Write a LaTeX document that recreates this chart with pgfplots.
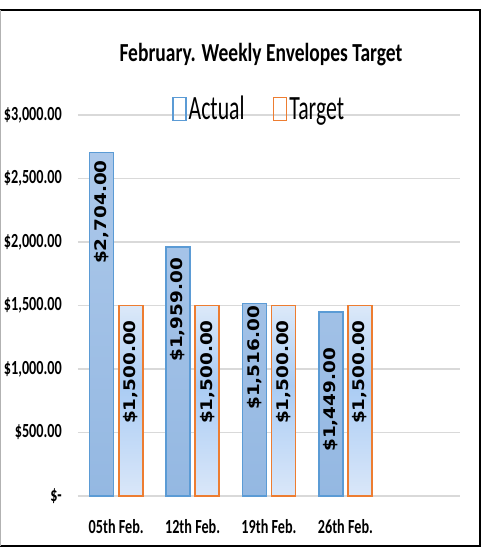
\documentclass[border=0pt]{standalone}
\usepackage{fontspec}
\setmainfont{Carlito}[FakeStretch=0.88]
\newfontfamily\titlefont{Carlito}[FakeStretch=0.75]
\newfontfamily\tickfont{Carlito}[FakeStretch=0.71]
\newfontfamily\legfont{Carlito}[FakeStretch=0.64]
\newfontfamily\labfont{DejaVu Sans}[FakeStretch=1.15]
\usepackage{pgfplots}
\pgfplotsset{compat=1.18}
\definecolor{actEdge}{RGB}{91,155,213}
\definecolor{actTop}{RGB}{172,200,234}
\definecolor{actBot}{RGB}{148,184,226}
\definecolor{tgtEdge}{RGB}{237,125,49}
\definecolor{tgtTop}{RGB}{220,233,249}
\definecolor{tgtMid}{RGB}{170,204,244}
\definecolor{tgtBot}{RGB}{218,231,249}
\definecolor{gridc}{RGB}{217,217,217}
\pgfdeclareverticalshading{tgtshade}{100bp}{color(0bp)=(tgtBot); color(25bp)=(tgtBot); color(54bp)=(tgtMid); color(75bp)=(tgtTop); color(100bp)=(tgtTop)}
\pgfdeclareverticalshading{actshade}{100bp}{color(0bp)=(actBot); color(25bp)=(actBot); color(75bp)=(actTop); color(100bp)=(actTop)}
\pgfplotstableread{
x actual target
0 2704 1500
1 1959 1500
2 1516 1500
3 1449 1500
}\datatab
\begin{document}
\begin{tikzpicture}
\useasboundingbox (-78pt,-54pt) rectangle (404pt,496pt);
\begin{axis}[
  at={(0pt,0pt)}, anchor=south west,
  scale only axis, width=382pt, height=381pt,
  xmin=-0.5, xmax=4.5, ymin=0, ymax=3000,
  axis line style={draw=none},
  tick style={draw=none},
  ymajorgrids, major grid style={gridc, line width=1.5pt},
  ytick={0,500,1000,1500,2000,2500,3000},
  yticklabels={{\$-\hspace{10pt}},{\$500.00},{\$1,000.00},{\$1,500.00},{\$2,000.00},{\$2,500.00},{\$3,000.00}},
  yticklabel style={anchor=east, inner sep=0pt, xshift=-16pt, font=\tickfont\bfseries\fontsize{20}{20}\selectfont},
  xtick={0,1,2,3},
  xticklabels={05th Feb.,12th Feb.,19th Feb.,26th Feb.},
  xticklabel style={anchor=center, inner sep=0pt, yshift=-31pt, font=\tickfont\bfseries\fontsize{20}{20}\selectfont},
  title={February. Weekly Envelopes Target},
  title style={at={(axis description cs:0.479,1.144)}, anchor=center, inner sep=0pt, font=\titlefont\bfseries\fontsize{26}{26}\selectfont},
  legend style={at={(axis description cs:0.474,1.016)}, anchor=center, draw=none, fill=white, fill opacity=0, text opacity=1,
    font=\legfont\fontsize{34}{34}\selectfont, legend columns=2,
    /tikz/every even column/.append style={column sep=26pt},
    /tikz/every odd column/.append style={inner sep=2pt}},
  legend cell align=left,
]
% fills
\addplot[forget plot, ybar, bar width=24pt, bar shift=-14.5pt, draw=none, shade, shading=actshade]
  table[x=x, y=actual] {\datatab};
\addplot[forget plot, ybar, bar width=24pt, bar shift=14.5pt, draw=none, shade, shading=tgtshade]
  table[x=x, y=target] {\datatab};
% outlines
\addplot[ybar, bar width=24pt, bar shift=-14.5pt, draw=actEdge, fill=none, line width=1.6pt,
  legend image code/.code={\shade[shading=actshade] (0pt,-11.5pt) rectangle (13pt,11.5pt); \draw[actEdge, line width=1.2pt] (0pt,-11.5pt) rectangle (13pt,11.5pt);}]
  table[x=x, y=actual] {\datatab};
\addlegendentry{Actual}
\addplot[ybar, bar width=24pt, bar shift=14.5pt, draw=tgtEdge, fill=none, line width=1.8pt,
  legend image code/.code={\shade[shading=tgtshade] (0pt,-11.5pt) rectangle (13pt,11.5pt); \draw[tgtEdge, line width=1.2pt] (0pt,-11.5pt) rectangle (13pt,11.5pt);}]
  table[x=x, y=target] {\datatab};
\addlegendentry{Target}
\addplot[forget plot, only marks, mark=none, nodes near coords, point meta=explicit symbolic,
  every node near coord/.append style={rotate=90, anchor=center, inner sep=0pt, text=black, font=\labfont\bfseries\fontsize{16}{16}\selectfont}]
  coordinates {(-0.19,2236) [\$2,704.00] (0.81,1465) [\$1,959.00] (1.81,1087) [\$1,516.00] (2.81,756) [\$1,449.00]
               (0.19,976) [\$1,500.00] (1.19,976) [\$1,500.00] (2.19,976) [\$1,500.00] (3.19,976) [\$1,500.00]};
\end{axis}
\draw[black, line width=2pt] (-78pt,486pt) -- (402pt,486pt) -- (402pt,-50pt) -- (-78pt,-50pt);
\draw[gray!60, line width=1pt] (-77pt,486pt) -- (-77pt,-50pt);
\end{tikzpicture}
\end{document}
